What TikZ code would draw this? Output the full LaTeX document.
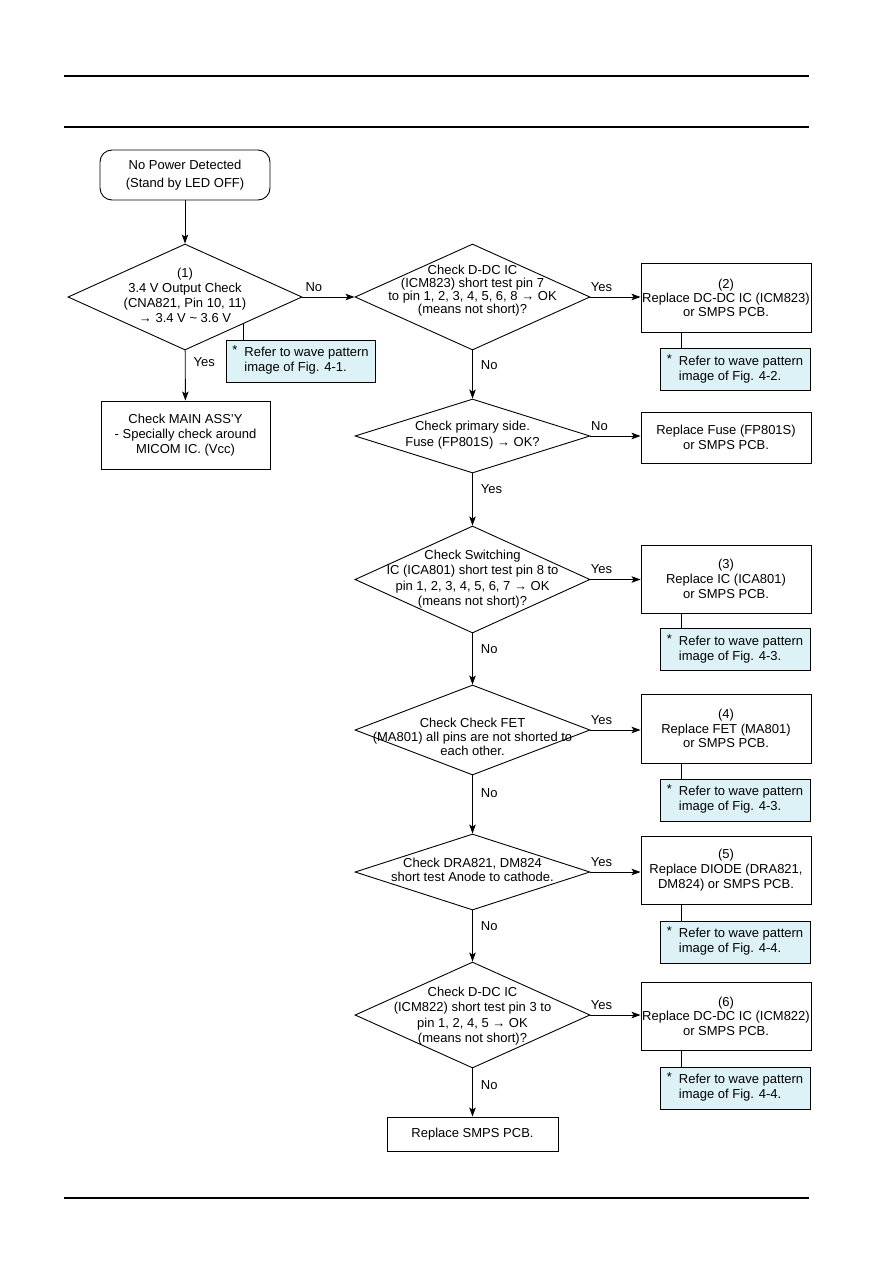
\documentclass[tikz,border=0pt]{standalone}
\usepackage{fontspec}
\setmainfont{Liberation Sans}
\usetikzlibrary{shapes.geometric,arrows.meta,calc}
\definecolor{notefill}{RGB}{221,242,247}
\begin{document}
\begin{tikzpicture}[x=1pt,y=-1pt,
  every node/.style={font=\fontsize{13}{15}\selectfont},
  box/.style={draw,line width=0.9pt,rectangle,inner sep=0pt},
  dia/.style={draw,line width=0.9pt,diamond,inner sep=0pt,minimum width=235pt,minimum height=106pt},
  txt/.style={align=center,inner sep=0pt},
  note/.style={draw,line width=0.9pt,fill=notefill,rectangle,inner sep=0pt,minimum width=150pt,minimum height=42pt},
  lbl/.style={inner sep=0pt},
  arr/.style={line width=0.9pt,-{Stealth[length=9pt,width=6.5pt,inset=2pt]}},
  ln/.style={line width=0.9pt}]
\useasboundingbox (0,0) rectangle (893,1263);
% rules
\coordinate (r1a) at (64,76); \coordinate (r1b) at (809,76);
\coordinate (r2a) at (64,127); \coordinate (r2b) at (809,127);
\coordinate (r3a) at (64,1198); \coordinate (r3b) at (809,1198);
\draw[line width=1.1pt] (r1a) -- (r1b);
\draw[line width=1.1pt] (r2a) -- (r2b);
\draw[line width=1.1pt] (r3a) -- (r3b);

\newcommand{\notetext}[1]{\begin{tabular}{@{}l@{\hspace{7pt}}l@{}}\raisebox{2pt}{*}&Refer to wave pattern\\ &image of Fig. #1.\end{tabular}}

% start
\node[box,rounded corners=12pt,minimum width=170pt,minimum height=50pt,align=center,font=\fontsize{13}{17.5}\selectfont] (start) at (185,175) {No Power Detected\\(Stand by LED OFF)};
% diamond 1
\node[dia,minimum width=234pt] (d1) at (185,297) {};
\node[txt,font=\fontsize{13}{15}\selectfont] (t1) at (185,295) {(1)\\3.4 V Output Check\\(CNA821, Pin 10, 11)\\→ 3.4 V \textasciitilde{} 3.6 V};
\node[note,minimum width=149pt] (n1) at (300.5,361) {};
\node[lbl] (n1t) at (n1) {\notetext{4-1}};
\node[box,minimum width=169pt,minimum height=68pt,align=center,font=\fontsize{13}{15.3}\selectfont] (main) at (185.5,435) {Check MAIN ASS'Y\\- Specially check around\\MICOM IC. (Vcc)};

% diamond 2
\node[dia] (d2) at (472.5,297) {};
\node[txt,font=\fontsize{13}{13}\selectfont] (t2) at (472.5,291) {Check D-DC IC\\(ICM823) short test pin 7\\to pin 1, 2, 3, 4, 5, 6, 8 → OK\\(means not short)?};
\node[box,minimum width=170pt,minimum height=69pt,align=center,font=\fontsize{13}{14}\selectfont] (b2) at (726,297.5) {(2)\\Replace DC-DC IC (ICM823)\\or SMPS PCB.};
\node[note] (n2) at (735,369.5) {};
\node[lbl] (n2t) at (n2) {\notetext{4-2}};

% diamond 3
\node[dia,minimum height=74pt] (d3) at (472.5,436) {};
\node[txt,font=\fontsize{13}{16}\selectfont] (t3) at (472.5,435) {Check primary side.\\Fuse (FP801S) → OK?};
\node[box,minimum width=170pt,minimum height=51pt,align=center,font=\fontsize{13}{15.5}\selectfont] (bf) at (726,437.5) {Replace Fuse (FP801S)\\or SMPS PCB.};

% diamond 4
\node[dia,minimum height=107pt] (d4) at (472.5,579.5) {};
\node[txt,font=\fontsize{13}{15.3}\selectfont] (t4) at (472.5,579) {Check Switching\\IC (ICA801) short test pin 8 to\\pin 1, 2, 3, 4, 5, 6, 7 → OK\\(means not short)?};
\node[box,minimum width=170pt,minimum height=68pt,align=center,font=\fontsize{13}{15}\selectfont] (b3) at (726,579) {(3)\\Replace IC (ICA801)\\or SMPS PCB.};
\node[note] (n3) at (735,649.5) {};
\node[lbl] (n3t) at (n3) {\notetext{4-3}};

% diamond 5
\node[dia,minimum height=90pt] (d5) at (472.5,730) {};
\node[txt,font=\fontsize{13}{14}\selectfont] (t5) at (472.5,737) {Check Check FET\\(MA801) all pins are not shorted to\\each other.};
\node[box,minimum width=170pt,minimum height=69pt,align=center,font=\fontsize{13}{14.5}\selectfont] (b4) at (726,728.5) {(4)\\Replace FET (MA801)\\or SMPS PCB.};
\node[note] (n4) at (735,800) {};
\node[lbl] (n4t) at (n4) {\notetext{4-3}};

% diamond 6
\node[dia,minimum height=76pt] (d6) at (472.5,872) {};
\node[txt,font=\fontsize{13}{14}\selectfont] (t6) at (472.5,870) {Check DRA821, DM824\\short test Anode to cathode.};
\node[box,minimum width=170pt,minimum height=68pt,align=center,font=\fontsize{13}{15}\selectfont] (b5) at (726,870) {(5)\\Replace DIODE (DRA821,\\DM824) or SMPS PCB.};
\node[note] (n5) at (735,942) {};
\node[lbl] (n5t) at (n5) {\notetext{4-4}};

% diamond 7
\node[dia,minimum height=106pt] (d7) at (472.5,1015) {};
\node[txt,font=\fontsize{13}{15.5}\selectfont] (t7) at (472.5,1016) {Check D-DC IC\\(ICM822) short test pin 3 to\\pin 1, 2, 4, 5 → OK\\(means not short)?};
\node[box,minimum width=170pt,minimum height=68pt,align=center,font=\fontsize{13}{14.5}\selectfont] (b6) at (726,1016) {(6)\\Replace DC-DC IC (ICM822)\\or SMPS PCB.};
\node[note] (n6) at (735,1088) {};
\node[lbl] (n6t) at (n6) {\notetext{4-4}};

% final
\node[box,minimum width=171pt,minimum height=34pt] (fin) at (472.5,1134) {Replace SMPS PCB.};

% connectors
\draw[arr] (start) -- (d1);
\draw[arr] (d1) -- node[lbl,pos=0.24,right=8pt] (y1) {Yes} (main);
\draw[arr] (d1.east) -- node[lbl,pos=0.22,above=5pt] (no1) {No} (d1.east -| d2.west);
\draw[ln] (d1.south east) -- (d1.south east |- n1.north);

\draw[arr] (d2.east) -- node[lbl,pos=0.22,above=5pt] (y2) {Yes} (d2.east -| b2.west);
\draw[arr] (d2) -- node[lbl,pos=0.3,right=8pt] (no2) {No} (d3);
\draw[ln] ([xshift=41pt]b2.south west) -- ([xshift=41pt]b2.south west |- n2.north);

\draw[arr] (d3.east) -- node[lbl,pos=0.18,above=5pt] (no3) {No} (d3.east -| bf.west);
\draw[arr] (d3) -- node[lbl,pos=0.3,right=8pt] (y3) {Yes} (d4);

\draw[arr] (d4.east) -- node[lbl,pos=0.22,above=5pt] (y4) {Yes} (d4.east -| b3.west);
\draw[arr] (d4) -- node[lbl,pos=0.3,right=8pt] (no4) {No} (d5);
\draw[ln] ([xshift=41pt]b3.south west) -- ([xshift=41pt]b3.south west |- n3.north);

\draw[arr] (d5.east) -- node[lbl,pos=0.22,above=5pt] (y5) {Yes} (d5.east -| b4.west);
\draw[arr] (d5) -- node[lbl,pos=0.3,right=8pt] (no5) {No} (d6);
\draw[ln] ([xshift=41pt]b4.south west) -- ([xshift=41pt]b4.south west |- n4.north);

\draw[arr] (d6.east) -- node[lbl,pos=0.22,above=5pt] (y6) {Yes} (d6.east -| b5.west);
\draw[arr] (d6) -- node[lbl,pos=0.3,right=8pt] (no6) {No} (d7);
\draw[ln] ([xshift=41pt]b5.south west) -- ([xshift=41pt]b5.south west |- n5.north);

\draw[arr] (d7.east) -- node[lbl,pos=0.22,above=5pt] (y7) {Yes} (d7.east -| b6.west);
\draw[arr] (d7) -- node[lbl,pos=0.35,right=8pt] (no7) {No} (fin);
\draw[ln] ([xshift=41pt]b6.south west) -- ([xshift=41pt]b6.south west |- n6.north);
\end{tikzpicture}
\end{document}
